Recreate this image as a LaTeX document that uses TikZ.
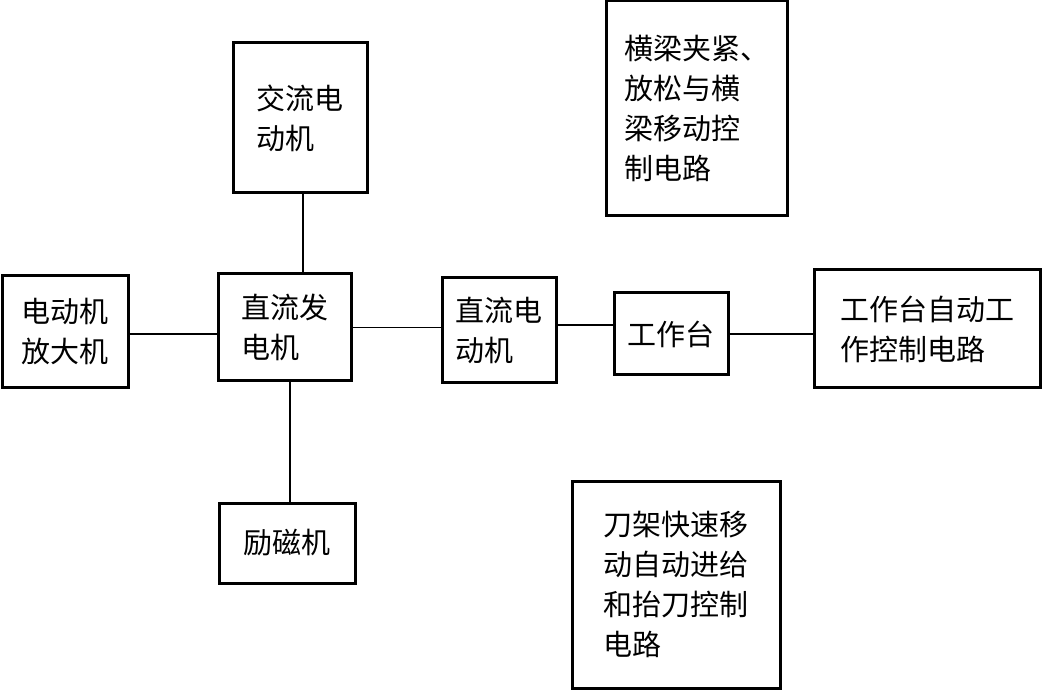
\documentclass[tikz,border=0pt]{standalone}
\usepackage{fontspec}
\newfontfamily\cjk{Noto Sans CJK SC}
\tikzset{
  blk/.style={draw=black, line width=3pt, fill=white, inner sep=0pt, outer sep=0pt,
    align=left, font=\cjk\fontsize{29pt}{40pt}\selectfont},
  wire/.style={draw=black, line width=1.8pt}
}
\begin{document}
\begin{tikzpicture}[x=1pt,y=1pt]
\useasboundingbox[fill=white] (0,0) rectangle (1044,-692);
% boxes
\node[blk, minimum width=134pt, minimum height=150pt] (ac)   at (300,-118)   {交流电\\动机};
\node[blk, minimum width=126pt, minimum height=112pt] (amp)  at (65,-332)    {电动机\\放大机};
\node[blk, minimum width=133pt, minimum height=107pt] (gen)  at (284.5,-327.5) {直流发\\电机};
\node[blk, minimum width=114pt, minimum height=105pt] (dcm)  at (499,-330.5) {直流电\\动机};
\node[blk, minimum width=114pt, minimum height=82pt]  (tab)  at (671,-334)   {工作台};
\node[blk, minimum width=226pt, minimum height=118pt] (auto) at (927,-329)   {工作台自动工\\作控制电路};
\node[blk, minimum width=181pt, minimum height=215pt] (beam) at (696.5,-108.5) {横梁夹紧、\\放松与横\\梁移动控\\制电路};
\node[blk, minimum width=136pt, minimum height=80pt]  (exc)  at (287,-543)   {励磁机};
\node[blk, minimum width=208pt, minimum height=207pt] (tool) at (676,-584.5) {刀架快速移\\动自动进给\\和抬刀控制\\电路};
% connectors
\draw[wire] ([xshift=3pt]ac.south) -- ([xshift=3pt]ac.south |- gen.north);
\draw[wire] ([yshift=-2pt]amp.east) -- ([yshift=-2pt]amp.east -| gen.west);
\draw[wire] (gen.east) -- (gen.east -| dcm.west);
\draw[wire] ([yshift=5.5pt]dcm.east) -- ([yshift=5.5pt]dcm.east -| tab.west);
\draw[wire] (tab.east) -- (tab.east -| auto.west);
\draw[wire] ([xshift=5.5pt]gen.south) -- ([xshift=5.5pt]gen.south |- exc.north);
\end{tikzpicture}
\end{document}
